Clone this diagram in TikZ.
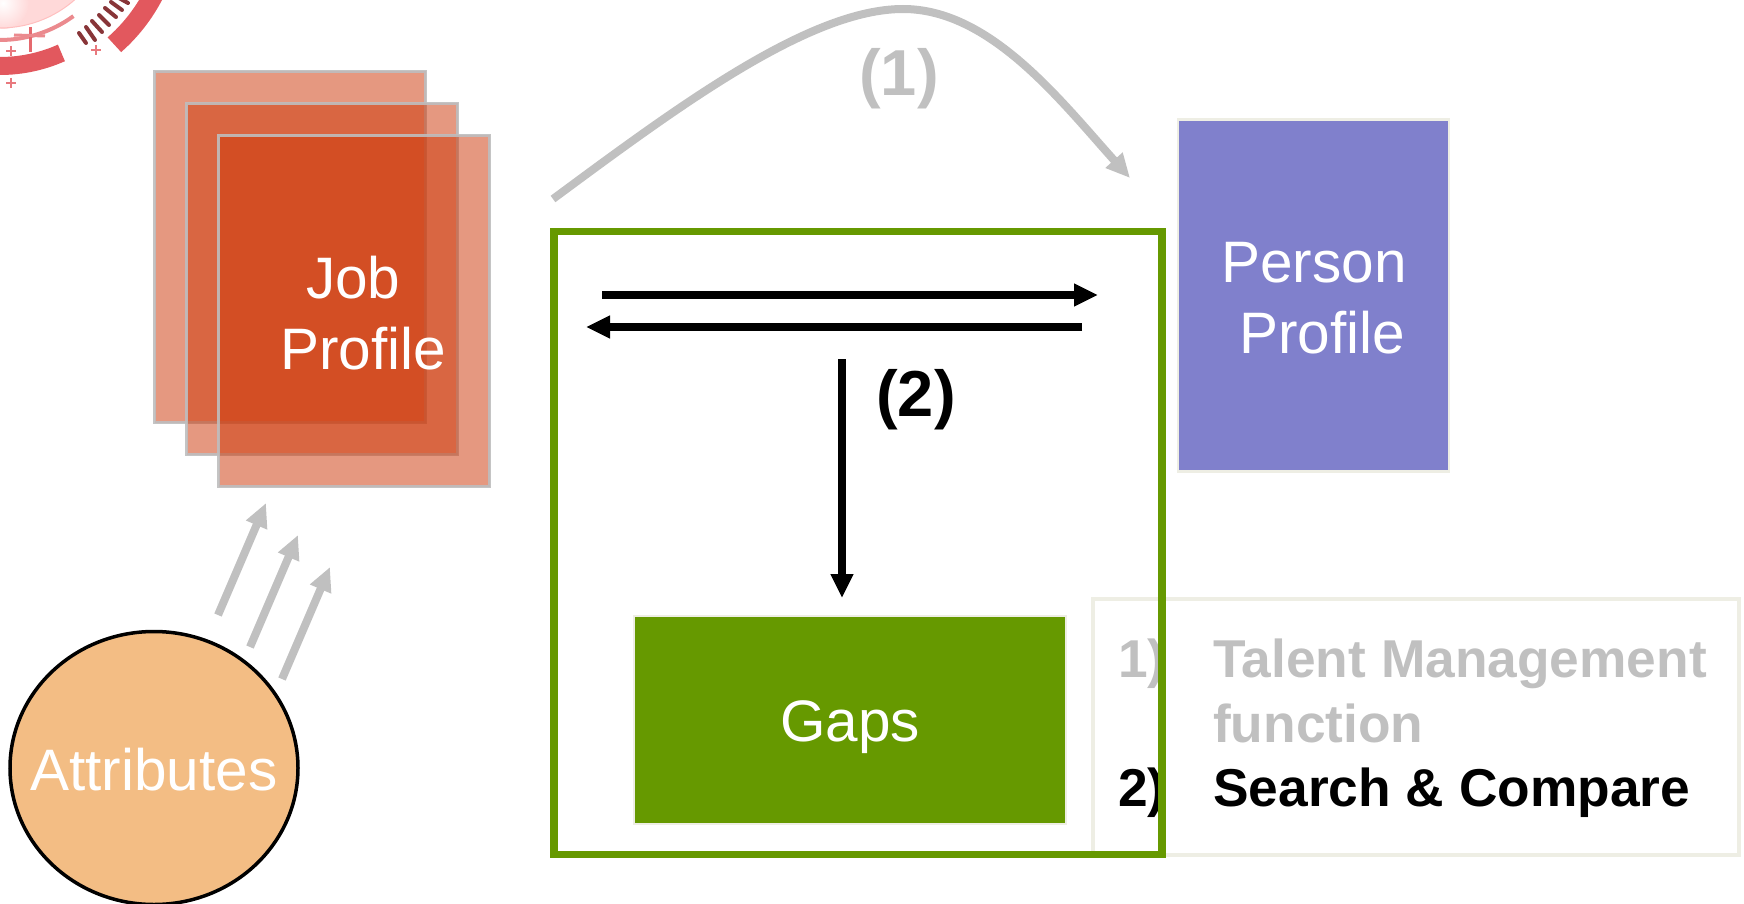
\documentclass[tikz,border=0pt]{standalone}
\usepackage{xcolor}
\usepackage{fontspec}
\setmainfont{Liberation Sans}
\usetikzlibrary{arrows.meta,shapes.geometric}

\definecolor{jobred}{RGB}{205,55,8}
\definecolor{edgegray}{RGB}{190,190,190}
\definecolor{softgray}{RGB}{192,192,192}
\definecolor{paleedge}{RGB}{238,238,228}
\definecolor{gapgreen}{RGB}{102,153,0}
\definecolor{personblue}{RGB}{128,128,204}
\definecolor{attrorange}{RGB}{243,189,132}
\definecolor{logored}{RGB}{226,88,94}

\tikzset{
    jobbox/.style={draw=edgegray, line width=3pt, fill=jobred, fill opacity=.515, draw opacity=.9,
        minimum width=271pt, minimum height=351pt, inner sep=0},
    whitetext/.style={text=white, font=\fontsize{58.5}{71}\selectfont, inner sep=0, align=left},
    legendtext/.style={font=\bfseries\fontsize{53.3}{64.5}\selectfont, inner sep=0, anchor=base west, align=left},
    tagtext/.style={font=\bfseries\fontsize{65}{70}\selectfont, inner sep=0},
    greyarrow/.style={draw=softgray, line width=8pt, -{Triangle[length=24pt,width=21.5pt]}},
    blackarrow/.style={draw=black, line width=8pt, -{Triangle[length=24pt,width=21.5pt]}},
    logotick/.style={draw=logored!60!black, line width=4pt, line cap=round},
    logoplus/.style={draw=logored!80, line width=1.3pt}
}

\begin{document}
\begin{tikzpicture}[x=1pt, y=-1pt]
    \useasboundingbox (0,0) rectangle (1744,904);
    \clip (0,0) rectangle (1744,904);

    % emblem in the corner
    \fill[pink!60] (0,-85) circle (113);
    \shade[inner color=white, outer color=pink!60] (3,3) circle (26);
    \draw[pink, line width=1pt] (0,-85) circle (113);
    \draw[logored!70, line width=4pt] plot[smooth, domain=90:54, samples=9] ({125*cos(\x)},{-85+125*sin(\x)});
    \draw[logored, line width=18pt] plot[smooth, domain=92:66, samples=9] ({151*cos(\x)},{-85+151*sin(\x)});
    \draw[logored, line width=20pt] plot[smooth, domain=48.6:20, samples=9] ({173*cos(\x)},{-85+173*sin(\x)});
    \draw[logored!90, line width=3pt] (30,27) -- (30,52);
    \draw[logored!70, line width=3pt] (14,35) -- (45,36);
    \draw[logotick] (79,33) -- (86,43);
    \draw[logotick] (86,27) -- (95,40);
    \draw[logotick] (92,21) -- (102,32);
    \draw[logotick] (99,15) -- (109,25);
    \draw[logotick] (105,8) -- (116,17);
    \draw[logotick] (111,2) -- (122,10);
    \draw[logotick] (119,-2) -- (128,3);
    \draw[logoplus] (6,51) -- (16,51) (11,46) -- (11,56);
    \draw[logoplus] (6,83) -- (16,83) (11,78) -- (11,88);
    \draw[logoplus] (91,50) -- (101,50) (96,45) -- (96,55);

    % job profile stack
    \node[jobbox] (jobA) at (290,247) {};
    \node[jobbox] (jobB) at (322,279) {};
    \node[jobbox] (jobC) at (354,311) {};
    \node[whitetext] (jobtext) at (363,313) {\hspace*{26pt}Job\\Profile};

    % attributes
    \node[ellipse, draw=black, line width=3.5pt, fill=attrorange, minimum width=288pt, minimum height=273pt, inner sep=0] (attr) at (154,768) {};
    \node[whitetext] (attrtext) at (154,770) {Attributes};

    \coordinate (attrA) at (218,615);
    \coordinate (attrB) at (250,647);
    \coordinate (attrC) at (282,679);
    \coordinate (jobA in) at (266,503);
    \coordinate (jobB in) at (298,535);
    \coordinate (jobC in) at (330,567);
    \draw[greyarrow] (attrA) -- (jobA in);
    \draw[greyarrow] (attrB) -- (jobB in);
    \draw[greyarrow] (attrC) -- (jobC in);

    % person profile
    \node[draw=paleedge, line width=2.5pt, fill=personblue, minimum width=271pt, minimum height=352pt, inner sep=0] (person) at (1313.5,295.5) {};
    \node[whitetext] (persontext) at (1314,298.5) {Person\\\hspace*{18pt}Profile};

    % talent management curve
    \coordinate (curveA) at (553,199);
    \coordinate (curveB) at (903,9);
    \coordinate (curveC) at (1130,178);
    \draw[greyarrow] (curveA) .. controls (680,105) and (810,9) .. (curveB)
        .. controls (990,9) and (1060,100) .. (curveC);
    \node[tagtext, text=softgray] (tagA) at (899,79) {(1)};

    % gaps
    \node[draw=paleedge, line width=2.5pt, fill=gapgreen, minimum width=432pt, minimum height=208pt, inner sep=0] (gaps) at (850,720) {};
    \node[whitetext] (gapstext) at (850,727) {Gaps};

    % legend, the frame goes over it
    \node[draw=paleedge, line width=4pt, minimum width=646pt, minimum height=256pt, inner sep=0] (legend) at (1416,727) {};
    \node[legendtext, text=softgray] (itemA) at (1118,677) {1)};
    \node[legendtext, text=softgray] (itemAtext) at (1213,742) {Talent Management\\function};
    \node[legendtext] (itemB) at (1118,806) {2)};
    \node[legendtext] (itemBtext) at (1213,806) {Search \& Compare};

    \node[draw=gapgreen, line width=7.5pt, minimum width=608pt, minimum height=623pt, inner sep=0] (frame) at (858,543) {};

    % search and compare arrows
    \coordinate (jobout) at (602,295);
    \coordinate (personin) at (1098,295);
    \coordinate (personout) at (1082,327);
    \coordinate (jobin) at (586,327);
    \coordinate (searchtop) at (842,359);
    \coordinate (gapsin) at (842,598);
    \draw[blackarrow] (jobout) -- (personin);
    \draw[blackarrow] (personout) -- (jobin);
    \draw[blackarrow] (searchtop) -- (gapsin);
    \node[tagtext] (tagB) at (916,400) {(2)};
\end{tikzpicture}
\end{document}
